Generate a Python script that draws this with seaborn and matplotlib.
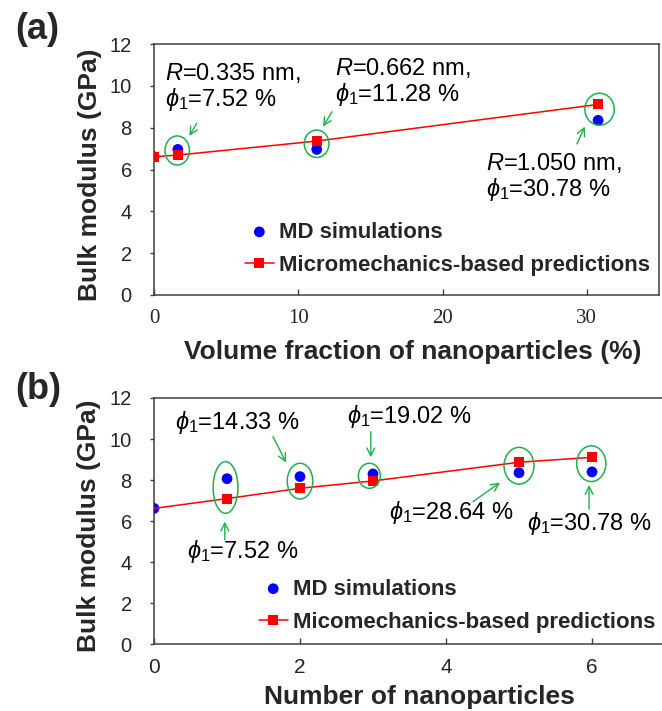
import pandas as pd
import seaborn as sns
import matplotlib.pyplot as plt
from matplotlib.patches import Ellipse

# panel (a): bulk modulus vs volume fraction of nanoparticles (%)
frac_a = [0, 1.65, 11.28, 30.78]
md_a = [6.61, 6.96, 6.96, 8.35]
pred_a = [6.61, 6.69, 7.36, 9.11]

# panel (b): bulk modulus vs number of nanoparticles
num_b = [0, 1, 2, 3, 5, 6]
md_b = [6.62, 8.07, 8.17, 8.30, 8.36, 8.40]
pred_b = [6.62, 7.10, 7.60, 7.96, 8.87, 9.11]

md_label = 'MD simulations'
pred_label_a = 'Micromechanics-based predictions'
pred_label_b = 'Micomechanics-based predictions'

# annotations: ellipse (cx, cy, w, h), arrow (tail, head), text (x, baseline, lines)
ellipses_a = [(1.61, 6.91, 1.69, 1.39), (11.27, 7.23, 1.71, 1.31), (30.88, 8.88, 2.04, 1.53)]
arrows_a = [((2.96, 8.21), (2.45, 7.60)), ((12.34, 8.76), (11.71, 8.05)), ((29.31, 7.22), (29.86, 8.05))]
texts_a = [(0.76, 10.28, ['$R$=0.335 nm,', r'$\phi_1$=7.52 %']),
           (12.57, 10.52, ['$R$=0.662 nm,', r'$\phi_1$=11.28 %']),
           (22.99, 5.98, ['$R$=1.050 nm,', r'$\phi_1$=30.78 %'])]

ellipses_b = [(0.98, 7.64, 0.34, 2.52), (2.0, 7.95, 0.35, 1.74), (2.95, 8.21, 0.30, 1.22),
              (5.0, 8.70, 0.41, 1.79), (5.99, 8.80, 0.40, 1.74)]
arrows_b = [((0.97, 5.09), (0.97, 5.98)), ((1.63, 10.12), (1.81, 8.85)), ((2.97, 10.36), (2.97, 9.11)),
            ((4.37, 6.95), (4.74, 7.88)), ((5.96, 6.58), (5.96, 7.76))]
texts_b = [(0.45, 4.19, [r'$\phi_1$=7.52 %']), (0.29, 10.48, [r'$\phi_1$=14.33 %']),
           (2.64, 10.77, [r'$\phi_1$=19.02 %']), (3.22, 6.10, [r'$\phi_1$=28.64 %']),
           (5.11, 5.57, [r'$\phi_1$=30.78 %'])]

sns.set_style('ticks')
plt.rcParams['font.family'] = ['Liberation Sans', 'DejaVu Sans']
plt.rcParams['mathtext.fontset'] = 'custom'
plt.rcParams['mathtext.rm'] = 'Liberation Sans'
plt.rcParams['mathtext.it'] = 'Liberation Sans:italic'
plt.rcParams['mathtext.bf'] = 'Liberation Sans:bold'

green = '#1fb04c'
spine_col = '#404040'

fig = plt.figure(figsize=(6.62, 7.11), dpi=100)
ax_a = fig.add_axes([154 / 662, 1 - 295 / 711, 505 / 662, 251 / 711])
ax_b = fig.add_axes([154 / 662, 1 - 644.3 / 711, 511 / 662, 246.3 / 711])


def draw_panel(ax, x, md, pred, pred_label, ell, arr, txt, row_h, skip_first):
    df = pd.DataFrame({'x': x, 'md': md, 'pred': pred})
    every = list(range(1, len(x))) if skip_first else None
    sns.lineplot(data=df, x='x', y='pred', ax=ax, color='red', lw=1.1, marker='s',
                 markersize=6.5, markeredgewidth=0, markevery=every, label=pred_label, zorder=4)
    sns.scatterplot(data=df, x='x', y='md', ax=ax, color='blue', s=60, edgecolor='none',
                    label=md_label, zorder=3)
    for cx, cy, w, h in ell:
        ax.add_patch(Ellipse((cx, cy), w, h, fill=False, ec=green, lw=1.1, zorder=5))
    for tail, head in arr:
        ax.annotate('', xy=head, xytext=tail,
                    arrowprops=dict(arrowstyle='->', color=green, lw=1.0,
                                    shrinkA=0, shrinkB=0, mutation_scale=14))
    for tx, ty, lines in txt:
        for i, s in enumerate(lines):
            ax.text(tx, ty - i * row_h, s, fontsize=17, va='baseline', ha='left', color='black')
    ax.set_ylim(0, 12)
    ax.set_yticks(range(0, 13, 2))
    ax.tick_params(axis='y', direction='out', length=3, width=1, pad=13, labelsize=14.5,
                   color=spine_col)
    ax.tick_params(axis='x', direction='in', length=4, width=1, pad=10, labelsize=15,
                   color=spine_col)
    for sp in ax.spines.values():
        sp.set_visible(True)
        sp.set_color(spine_col)
        sp.set_linewidth(1.1)
    ax.set_ylabel('Bulk modulus (GPa)', fontsize=19, fontweight='bold')


draw_panel(ax_a, frac_a, md_a, pred_a, pred_label_a, ellipses_a, arrows_a, texts_a, 1.25, False)
draw_panel(ax_b, num_b, md_b, pred_b, pred_label_b, ellipses_b, arrows_b, texts_b, 1.3, True)

ax_a.set_xlim(0, 35)
ax_a.set_xticks([0, 10, 20, 30])
for lbl in ax_a.get_xticklabels():
    lbl.set_fontfamily('Liberation Serif')
ax_b.set_xlim(0, 7)
ax_b.set_xticks([0, 2, 4, 6])
ax_b.tick_params(axis='x', labelsize=15)

ax_a.set_xlabel('Volume fraction of nanoparticles (%)', fontsize=19, fontweight='bold')
ax_b.set_xlabel('Number of nanoparticles', fontsize=19, fontweight='bold')
ax_a.xaxis.set_label_coords(0.513, -0.227)
ax_b.xaxis.set_label_coords(0.52, -0.214)
for ax in (ax_a, ax_b):
    ax.xaxis.label.set_va('center')
    ax.yaxis.set_label_coords(-0.127, 0.48)
    ax.yaxis.label.set_va('center')

# legends: MD first, predictions second
for ax, anchor in ((ax_a, (0.180, 0.292)), (ax_b, (0.205, 0.267))):
    h, l = ax.get_legend_handles_labels()
    ax.legend([h[1], h[0]], [l[1], l[0]], loc='upper left', bbox_to_anchor=anchor,
              frameon=False, borderpad=0, borderaxespad=0, handlelength=1.3,
              handletextpad=0.25, labelspacing=0.55,
              prop={'weight': 'bold', 'size': 16})

fig.text(15 / 662, 1 - 12 / 711, '(a)', fontsize=26, fontweight='bold', va='top', ha='left')
fig.text(15 / 662, 1 - 372 / 711, '(b)', fontsize=26, fontweight='bold', va='top', ha='left')

fig.savefig('out.png', dpi=100)
